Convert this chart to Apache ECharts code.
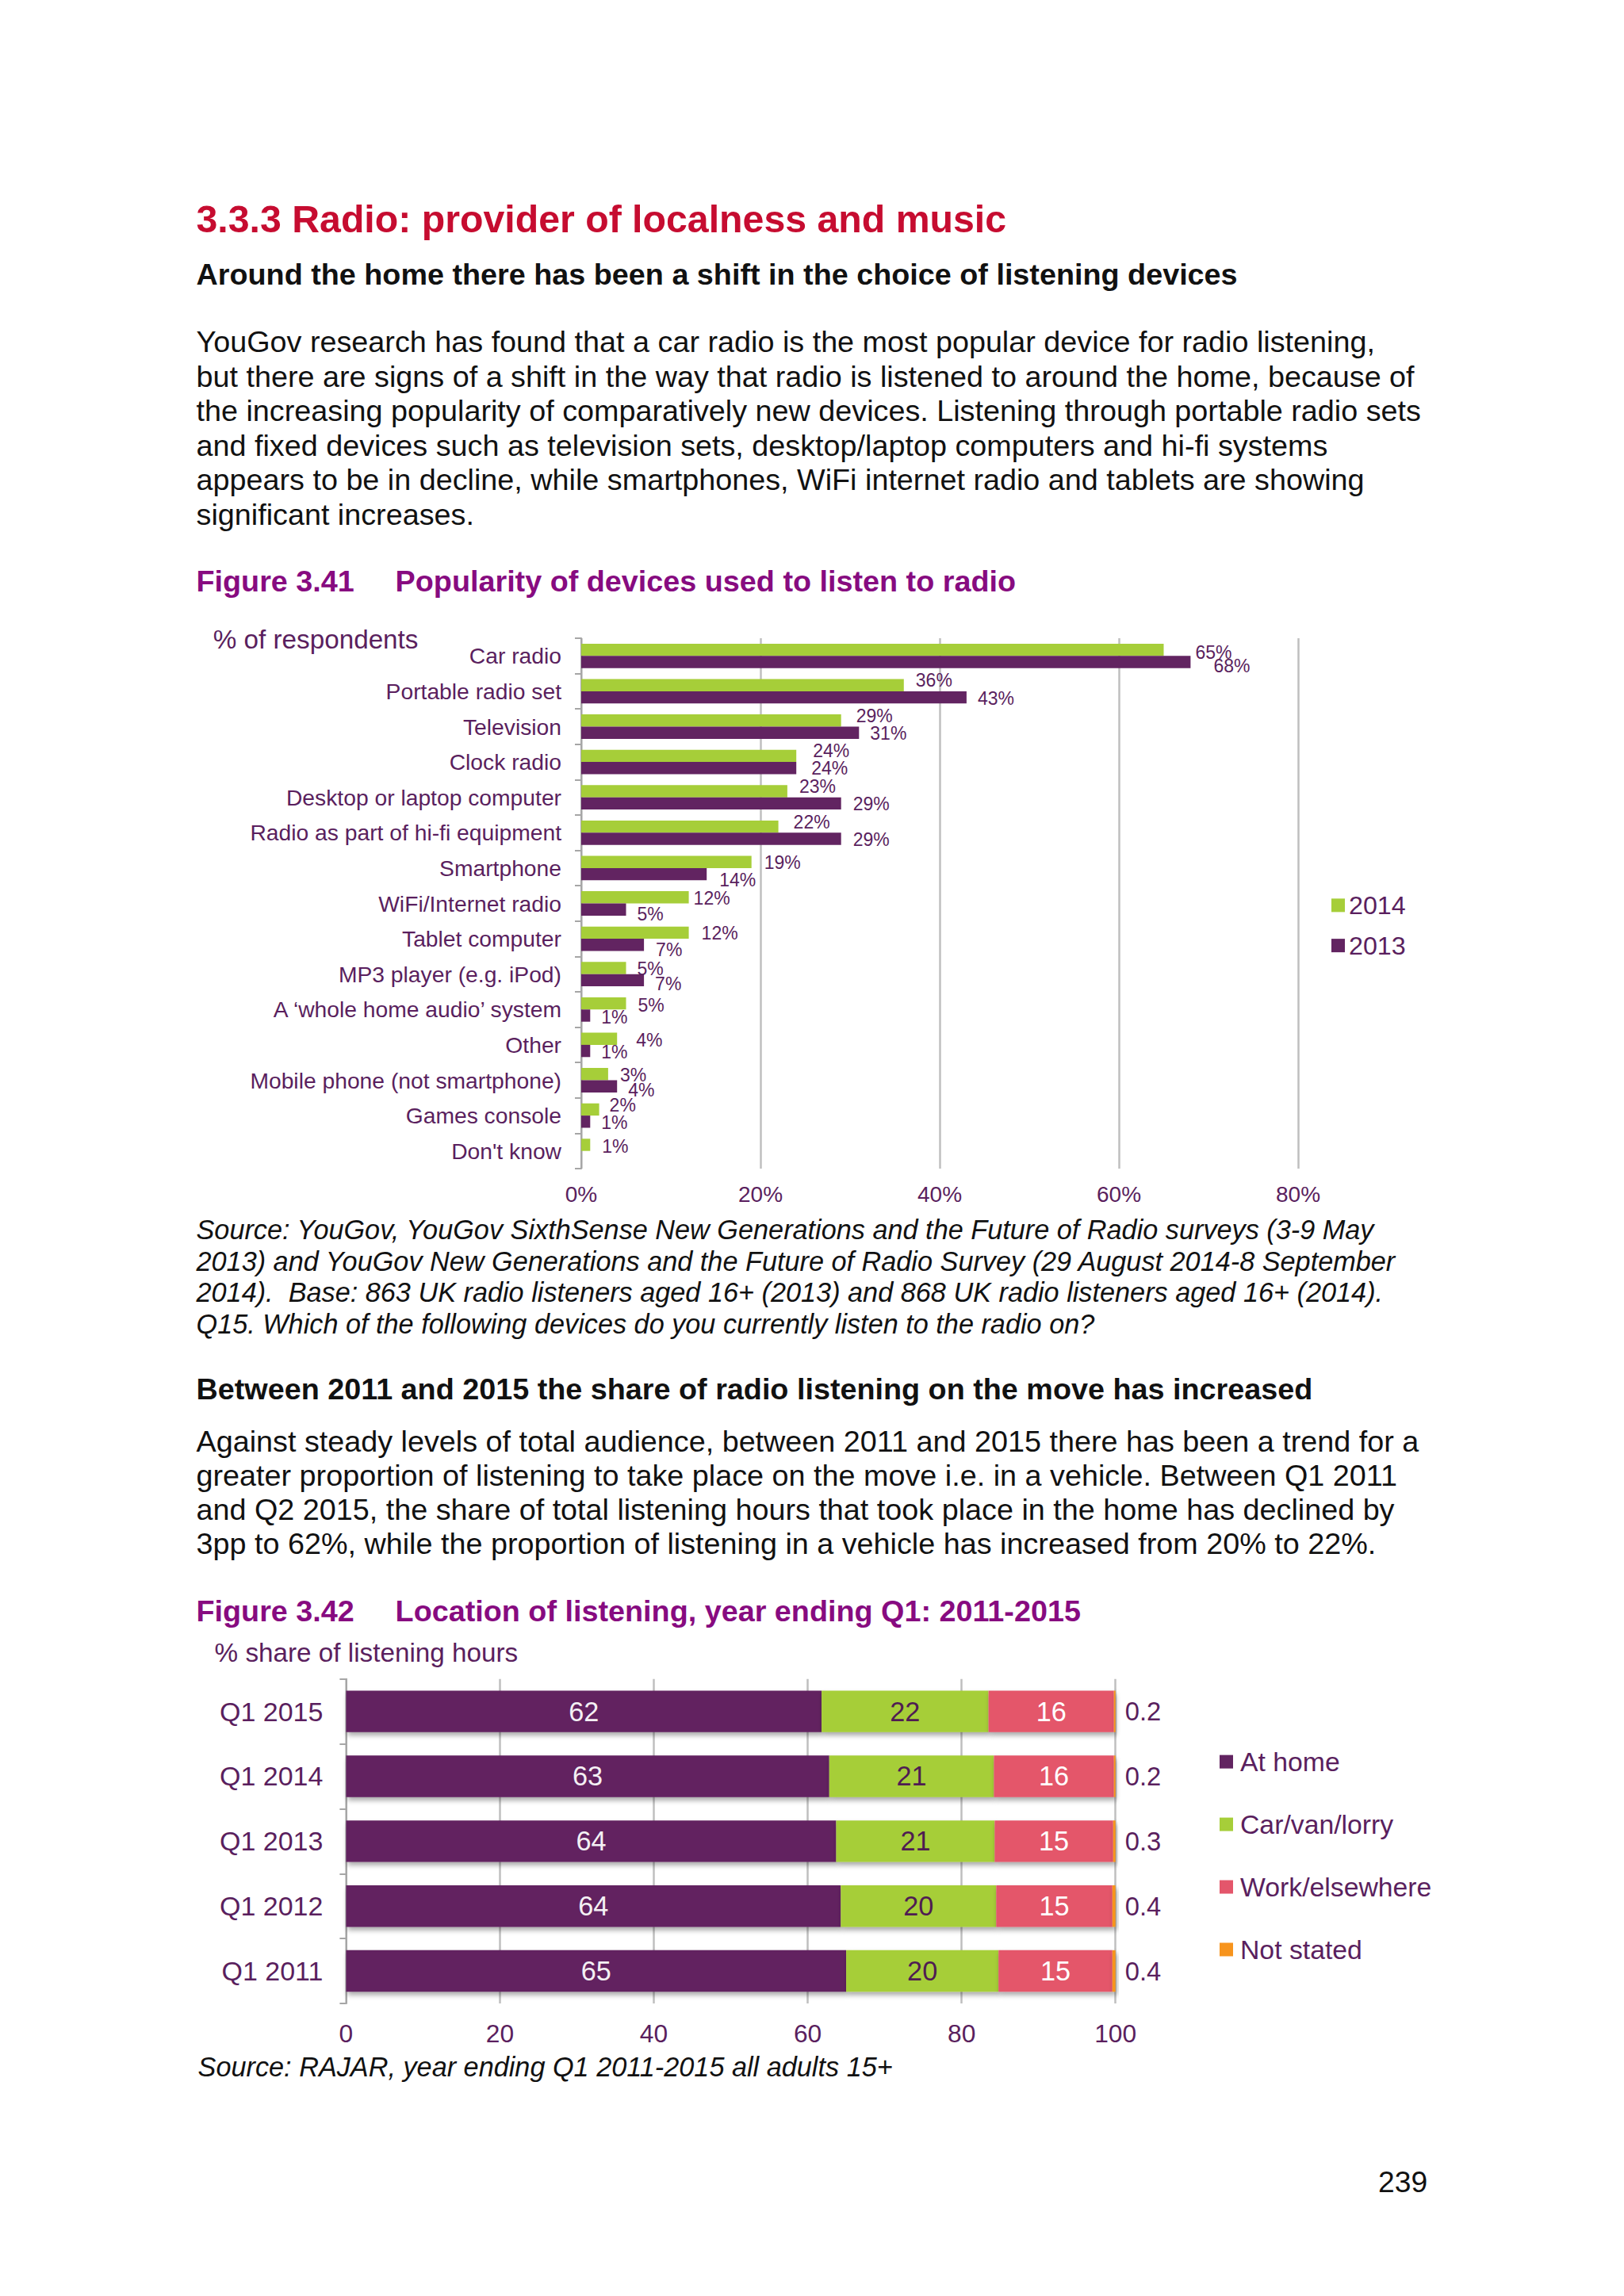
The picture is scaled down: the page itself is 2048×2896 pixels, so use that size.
<!DOCTYPE html>
<html><head><meta charset="utf-8">
<script src="https://cdn.jsdelivr.net/npm/echarts@6/dist/echarts.min.js"></script>
<style>html,body{margin:0;padding:0;background:#fff}#c{width:2048px;height:2896px}</style>
</head><body><div id="c"></div>
<script>
// ---------- DATA ----------
const devices = ['Car radio','Portable radio set','Television','Clock radio','Desktop or laptop computer','Radio as part of hi-fi equipment','Smartphone','WiFi/Internet radio','Tablet computer','MP3 player (e.g. iPod)','A \u2018whole home audio\u2019 system','Other','Mobile phone (not smartphone)','Games console',"Don't know"];
const pct2014 = [65,36,29,24,23,22,19,12,12,5,5,4,3,2,1];
const pct2013 = [68,43,31,24,29,29,14,5,7,7,1,1,4,1,null];
const xTicks1 = [0,20,40,60,80];

const quarters = ['Q1 2015','Q1 2014','Q1 2013','Q1 2012','Q1 2011'];
const atHome = [61.8,62.8,63.7,64.3,65.0];
const carVanLorry = [21.7,21.4,20.6,20.2,19.8];
const workElsewhere = [16.3,15.6,15.4,15.1,14.8];
const notStated = [0.2,0.2,0.3,0.4,0.4];
const xTicks2 = [0,20,40,60,80,100];

// ---------- TEXT ----------
const heading = '3.3.3 Radio: provider of localness and music';
const subhead1 = 'Around the home there has been a shift in the choice of listening devices';
const para1 = [
 'YouGov research has found that a car radio is the most popular device for radio listening,',
 'but there are signs of a shift in the way that radio is listened to around the home, because of',
 'the increasing popularity of comparatively new devices. Listening through portable radio sets',
 'and fixed devices such as television sets, desktop/laptop computers and hi-fi systems',
 'appears to be in decline, while smartphones, WiFi internet radio and tablets are showing',
 'significant increases.'];
const fig1Num = 'Figure 3.41';
const fig1Title = 'Popularity of devices used to listen to radio';
const unit1 = '% of respondents';
const source1 = [
 'Source: YouGov, YouGov SixthSense New Generations and the Future of Radio surveys (3-9 May',
 '2013) and YouGov New Generations and the Future of Radio Survey (29 August 2014-8 September',
 '2014).  Base: 863 UK radio listeners aged 16+ (2013) and 868 UK radio listeners aged 16+ (2014).',
 'Q15. Which of the following devices do you currently listen to the radio on?'];
const subhead2 = 'Between 2011 and 2015 the share of radio listening on the move has increased';
const para2 = [
 'Against steady levels of total audience, between 2011 and 2015 there has been a trend for a',
 'greater proportion of listening to take place on the move i.e. in a vehicle. Between Q1 2011',
 'and Q2 2015, the share of total listening hours that took place in the home has declined by',
 '3pp to 62%, while the proportion of listening in a vehicle has increased from 20% to 22%.'];
const fig2Num = 'Figure 3.42';
const fig2Title = 'Location of listening, year ending Q1: 2011-2015';
const unit2 = '% share of listening hours';
const source2 = 'Source: RAJAR, year ending Q1 2011-2015 all adults 15+';
const pageNo = '239';

// ---------- LAYOUT / STYLE ----------
const FONT = 'Liberation Sans';
const mctx = document.createElement('canvas').getContext('2d');
function textW(t, size, weight, style){ mctx.font = (style||'normal')+' '+(weight||'normal')+' '+size+'px "'+FONT+'"'; return mctx.measureText(t).width; }
function fit(texts, targets, weight, style){ let m=0,t=0; texts.forEach((s,i)=>{ m+=textW(s,100,weight,style); t+=targets[i]; }); return Math.round(400*t/m)/4; }

const fsHead = fit([heading],[1020],'bold');
const fsSub = fit([subhead1, subhead2],[1314,1412],'bold');
const fsPara = fit(para1.concat(para2),[1492,1541,1548,1431,1477,349,1548,1517,1514,1490]);
const fsFig = fit([fig1Title, fig2Title],[782,864.5],'bold');
const fsSrc = fit(source1.concat([source2]),[1498,1520,1498,1131,880],'normal','italic');
const fsPage = fit([pageNo],[62]);
const fsCat1 = fit(['Radio as part of hi-fi equipment','Mobile phone (not smartphone)','Desktop or laptop computer'],[391,393,345]);
const fsX1 = fit(['20%','80%'],[57,55]);
const fsUnit = fit([unit1, unit2],[255,387]);
const fsLbl1 = fit(['43%'],[46]);
const fsLeg1 = fit(['2014'],[72]);
const fsCat2 = fit(['Q1 2015'],[130]);
const fsX2 = fit(['20','40','100'],[35,35,53.5]);
const fsLbl2 = fit(['62','22'],[38,38]);
const fsNS = fit(['0.2'],[45.5]);
const fsLeg2 = fit(['Work/elsewhere'],[241]);

const PURPLE_TXT = '#5a1f5e';
const GREEN = '#a6ce39', PURPLE = '#622461', RED = '#e4566b', ORANGE = '#f7941d';
const GRID_C = '#bfbfbf', AXIS_C = '#a6a6a6';
const FIG_C = '#870b80', HEAD_C = '#c60c30', BODY_C = '#111111';

// label nudges for figure 3.41 (gap from bar end, vertical shift)
const gap14 = [40,15,19,21,15,19,16,6,16,14,15,24,15,13,15];
const dy14  = [3,-6,-6,-6,-6,-6,1,1,1,1,2,2,1,-5,2];
const gap13 = [29,14,14,19,15,15,16,14,15,14,14,14,14,14,14];
const dy13  = [5,1,1,0,1,1,7,6,6,5,2,1,5,1,0];

function T(text, x, y, size, fill, weight, style, align){
  return { type:'text', x:x, y:y, silent:true,
    style:{ text:text, fill:fill, fontSize:size, lineHeight:Math.round(size*0.9), fontFamily:FONT, fontWeight:weight||'normal', fontStyle:style||'normal',
      align:align||'left', verticalAlign:'middle' } };
}
const LX = 247.5;
const g = [];
g.push(T(heading, LX, 276, fsHead, HEAD_C, 'bold'));
g.push(T(subhead1, LX, 346, fsSub, BODY_C, 'bold'));
para1.forEach((s,i)=>g.push(T(s, LX, 431 + i*43.6, fsPara, BODY_C)));
g.push(T(fig1Num, LX, 733, fsFig, FIG_C, 'bold'));
g.push(T(fig1Title, 498.6, 733, fsFig, FIG_C, 'bold'));
g.push(T(unit1, 268.7, 806, fsUnit, PURPLE_TXT));
source1.forEach((s,i)=>g.push(T(s, LX, 1551 + i*39.67, fsSrc, BODY_C, 'normal', 'italic')));
g.push(T(subhead2, LX, 1752, fsSub, BODY_C, 'bold'));
para2.forEach((s,i)=>g.push(T(s, LX, 1818 + i*43, fsPara, BODY_C)));
g.push(T(fig2Num, LX, 2032, fsFig, FIG_C, 'bold'));
g.push(T(fig2Title, 498.6, 2032, fsFig, FIG_C, 'bold'));
g.push(T(unit2, 270.6, 2084, fsUnit, PURPLE_TXT));
g.push(T(source2, 249.6, 2607, fsSrc, BODY_C, 'normal', 'italic'));
g.push(T(pageNo, 1738, 2752, fsPage, BODY_C));

const chart = echarts.init(document.getElementById('c'), null, {renderer:'svg', width:2048, height:2896});

const shadow = { shadowColor:'rgba(0,0,0,0.35)', shadowBlur:6, shadowOffsetX:2, shadowOffsetY:4 };
function stackSeries(name, data, color, lblColor, lblPos){
  return { name:name, type:'bar', stack:'loc', xAxisIndex:1, yAxisIndex:1, barCategoryGap:'36%',
    itemStyle: Object.assign({color:color}, shadow),
    label: lblPos === 'right'
      ? { show:true, position:'right', distance:12, color:PURPLE_TXT, fontSize:fsNS, fontFamily:FONT, formatter:p=>String(p.value) }
      : { show:true, position:'inside', color:lblColor, fontSize:fsLbl2, fontFamily:FONT, formatter:p=>String(Math.round(p.value)) },
    data:data };
}

const option = {
  backgroundColor:'#ffffff',
  animation:false,
  textStyle:{ fontFamily:FONT },
  graphic:{ elements:g },
  grid:[
    { left:733, top:805, width:904, height:669, containLabel:false },
    { left:436.4, top:2117.7, width:970.3, height:409.3, containLabel:false }
  ],
  legend:[
    { data:['2014','2013'], orient:'vertical', left:1679, top:1142 - fsLeg1/2, padding:0, icon:'rect', itemWidth:17, itemHeight:17,
      itemGap:51 - fsLeg1, selectedMode:false, textStyle:{ fontSize:fsLeg1, color:PURPLE_TXT, fontFamily:FONT } },
    { data:['At home','Car/van/lorry','Work/elsewhere','Not stated'], orient:'vertical', left:1538, top:2222 - fsLeg2/2, padding:0, icon:'rect',
      itemWidth:17, itemHeight:17, itemGap:78.7 - fsLeg2, selectedMode:false,
      textStyle:{ fontSize:fsLeg2, color:PURPLE_TXT, fontFamily:FONT, padding:[0,0,0,4] } }
  ],
  xAxis:[
    { type:'value', gridIndex:0, min:xTicks1[0], max:xTicks1[xTicks1.length-1], interval:xTicks1[1]-xTicks1[0],
      axisLine:{show:false}, axisTick:{show:false},
      axisLabel:{ formatter:'{value}%', fontSize:fsX1, color:PURPLE_TXT, margin:32 - fsX1/2 },
      splitLine:{ show:true, lineStyle:{ color:GRID_C, width:2.5 } } },
    { type:'value', gridIndex:1, min:xTicks2[0], max:xTicks2[xTicks2.length-1], interval:xTicks2[1]-xTicks2[0],
      axisLine:{show:false}, axisTick:{show:false},
      axisLabel:{ fontSize:fsX2, color:PURPLE_TXT, margin:38 - fsX2/2 },
      splitLine:{ show:true, lineStyle:{ color:GRID_C, width:2.5 } } }
  ],
  yAxis:[
    { type:'category', gridIndex:0, data:devices, inverse:true,
      axisLine:{ show:true, lineStyle:{ color:AXIS_C, width:2 } },
      axisTick:{ show:true, length:8, lineStyle:{ color:AXIS_C, width:2 } },
      axisLabel:{ fontSize:fsCat1, color:PURPLE_TXT, margin:25 } },
    { type:'category', gridIndex:1, data:quarters, inverse:true,
      axisLine:{ show:true, lineStyle:{ color:AXIS_C, width:2 } },
      axisTick:{ show:true, length:8, lineStyle:{ color:AXIS_C, width:2 } },
      axisLabel:{ fontSize:fsCat2, color:PURPLE_TXT, margin:29 } }
  ],
  series:[
    { name:'2014', type:'bar', xAxisIndex:0, yAxisIndex:0, barGap:'0%', barCategoryGap:'31%',
      itemStyle:{ color:GREEN },
      label:{ show:true, position:'right', distance:14, formatter:'{c}%', color:PURPLE_TXT, fontSize:fsLbl1, fontFamily:FONT },
      data: pct2014.map((v,i)=>({ value:v, label:{ offset:[gap14[i]-14, dy14[i]] } })) },
    { name:'2013', type:'bar', xAxisIndex:0, yAxisIndex:0, barGap:'0%', barCategoryGap:'31%',
      itemStyle:{ color:PURPLE },
      label:{ show:true, position:'right', distance:14, formatter:'{c}%', color:PURPLE_TXT, fontSize:fsLbl1, fontFamily:FONT },
      data: pct2013.map((v,i)=>( v==null ? { value:null, label:{show:false} } : { value:v, label:{ offset:[gap13[i]-14, dy13[i]] } })) },
    stackSeries('At home', atHome, PURPLE, '#f4f0f4'),
    stackSeries('Car/van/lorry', carVanLorry, GREEN, '#4f1c52'),
    stackSeries('Work/elsewhere', workElsewhere, RED, '#ffffff'),
    stackSeries('Not stated', notStated, ORANGE, null, 'right')
  ]
};
chart.setOption(option);
</script>
</body></html>
